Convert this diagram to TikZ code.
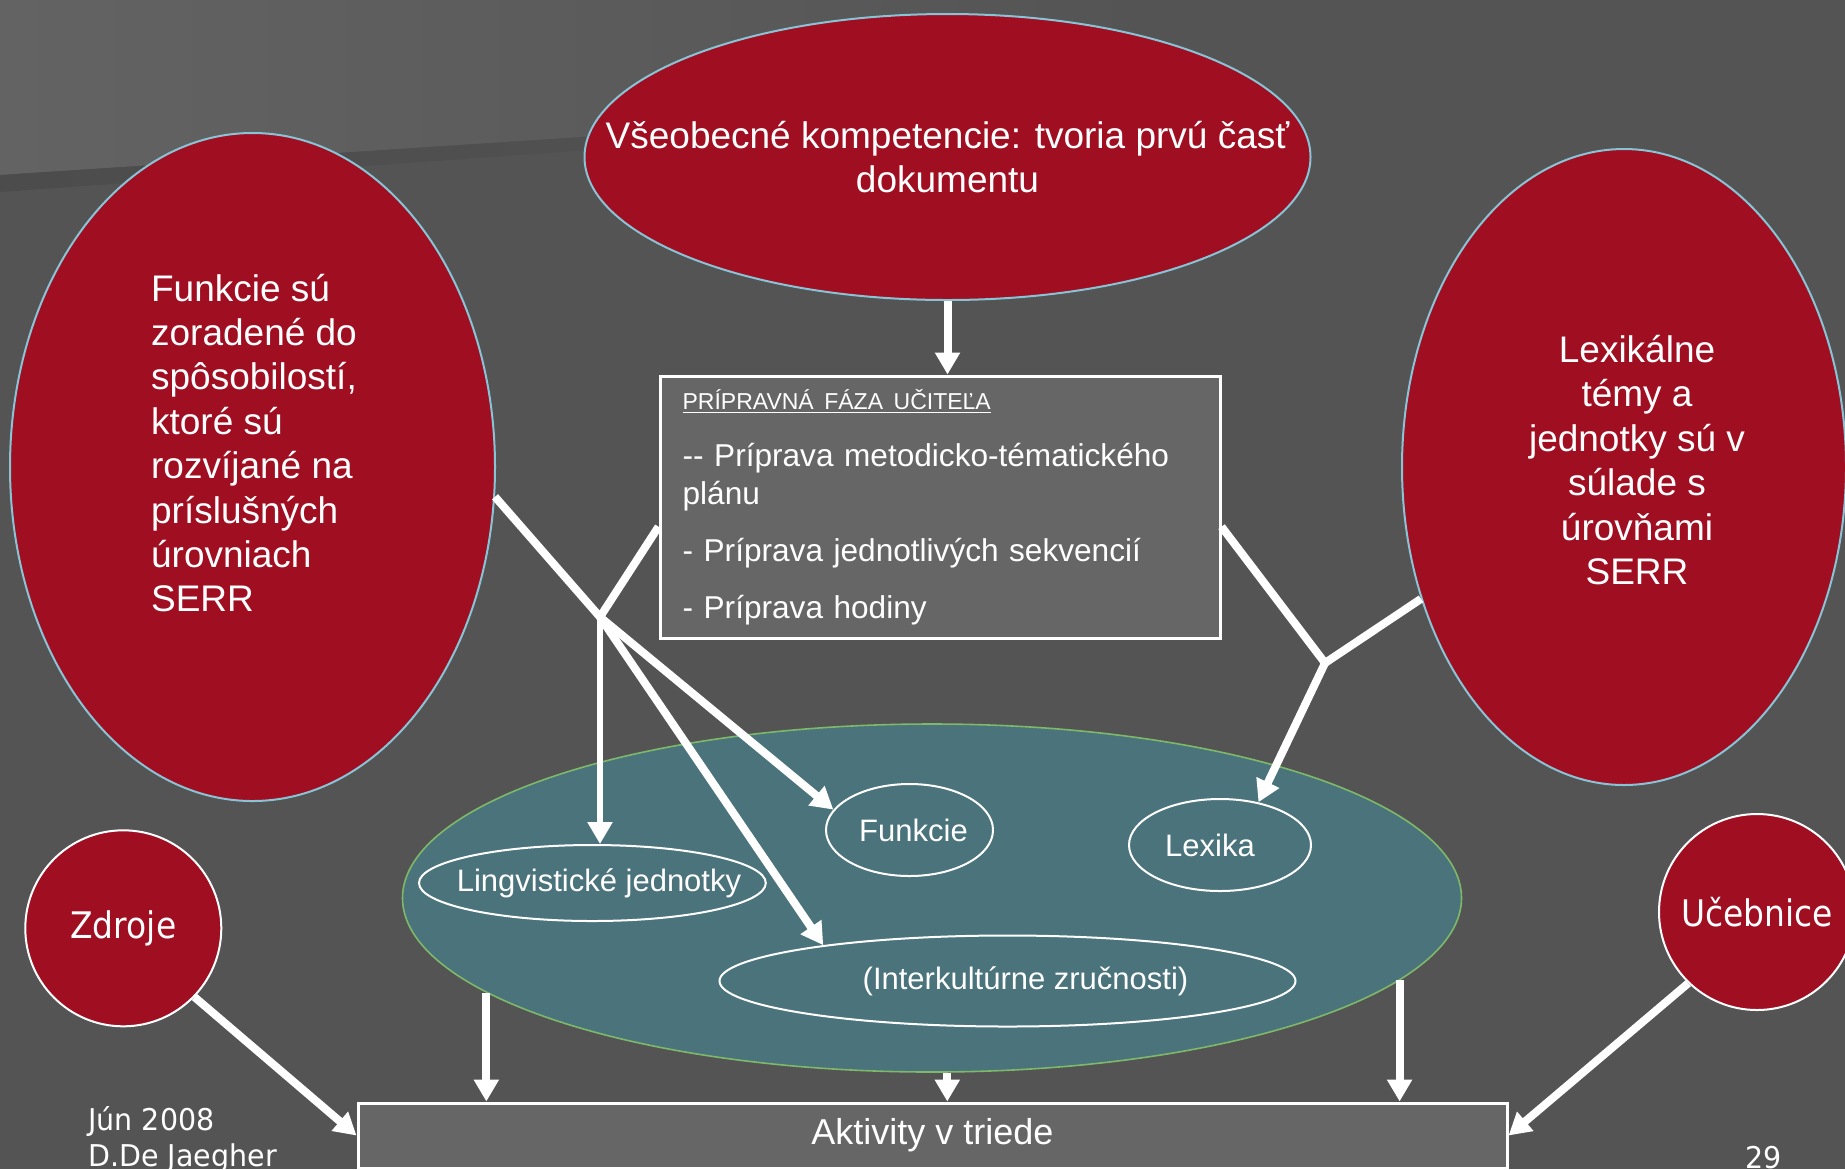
\documentclass[tikz,border=0pt]{standalone}
\usepackage{fontspec}
\setmainfont{Liberation Sans}
\newfontfamily\tahoma[FakeStretch=0.9]{DejaVu Sans}
\newfontfamily\tahomafoot[FakeStretch=0.95]{DejaVu Sans}
\usetikzlibrary{shapes.geometric,arrows.meta}
\definecolor{slate}{RGB}{84,84,84}
\definecolor{slatehi}{RGB}{99,99,99}
\definecolor{slatelo}{RGB}{76,76,76}
\definecolor{wine}{RGB}{160,14,33}
\definecolor{sky}{RGB}{136,196,214}
\definecolor{pond}{RGB}{74,115,124}
\definecolor{leaf}{RGB}{125,185,105}
\definecolor{boxgray}{RGB}{102,102,102}

\begin{document}
\begin{tikzpicture}[x=0.5pt,y=-0.5pt,
  redell/.style={ellipse,draw=sky,line width=1pt,fill=wine,inner sep=0pt},
  subell/.style={ellipse,draw=white,line width=1pt,inner sep=0pt},
  bigtxt/.style={text=white,inner sep=0pt,align=center,font=\fontsize{18.5}{22.2}\selectfont},
  subtxt/.style={text=white,inner sep=0pt,font=\fontsize{15.5}{18.6}\selectfont},
  disc/.style={circle,draw=white,line width=1pt,fill=wine,minimum size=98pt,inner sep=0pt,text=white,font=\tahoma\fontsize{18.3}{22}\selectfont},
  foot/.style={text=white,inner sep=0pt,anchor=base west,font=\tahomafoot\fontsize{15}{18}\selectfont},
  link/.style={draw=white,line width=4pt,line join=round},
  arr/.style={link,-{Triangle[width=12pt,length=11pt]}}
]
\useasboundingbox (0,0) rectangle (1845,1169);
\clip (0,0) rectangle (1845,1169);
% background
\fill[slate] (0,0) rectangle (1845,1169);
\shade[left color=slatehi,right color=slate] (0,0) -- (1150,0) -- (1150,100) -- (0,175) -- cycle;
\shade[left color=slatelo,right color=slate] (0,175) -- (1150,100) -- (1150,110) -- (0,192) -- cycle;

% red ellipses
\node[redell,minimum width=363pt,minimum height=143pt,
  label={[bigtxt]center:{Všeobecné kompetencie: tvoria prvú časť\\dokumentu}}] (top) at (947.5,157) {};
\node[redell,minimum width=242.5pt,minimum height=334pt,
  label={[bigtxt,align=left,xshift=0.75pt,yshift=12pt]center:{Funkcie sú\\zoradené do\\spôsobilostí,\\ktoré sú\\rozvíjané na\\príslušných\\úrovniach\\SERR}}] (lft) at (252.5,467) {};
\node[redell,minimum width=222pt,minimum height=318pt,
  label={[bigtxt,xshift=6.5pt,yshift=3.5pt]center:{Lexikálne\\témy a\\jednotky sú v\\súlade s\\úrovňami\\SERR}}] (rgt) at (1624,467) {};

% teacher box
\node[draw=white,line width=1.5pt,fill=boxgray,minimum width=280pt,minimum height=131pt,
  inner xsep=11.3pt,text width=257.4pt,align=left,text=white,
  font=\fontsize{15.8}{19}\selectfont] (prep) at (940,507)
  {{\fontsize{11.5}{19}\selectfont\underline{PRÍPRAVNÁ FÁZA UČITEĽA}}\\[9.35pt]
   \mbox{-}\mbox{-} Príprava metodicko-tématického\\plánu\\[9.8pt]
   - Príprava jednotlivých sekvencií\\[9.3pt]
   - Príprava hodiny};

% teal ellipse and its parts
\node[ellipse,draw=leaf,line width=0.8pt,fill=pond,minimum width=529.5pt,minimum height=174pt] (core) at (932,898) {};
\node[subell,minimum width=173.4pt,minimum height=38pt,
  label={[subtxt,xshift=3.3pt]center:Lingvistické jednotky}] (ling) at (592.4,883) {};
\node[subell,minimum width=83.5pt,minimum height=46pt,
  label={[subtxt,xshift=2pt]center:Funkcie}] (funk) at (909.5,830) {};
\node[subell,minimum width=91pt,minimum height=46pt,
  label={[subtxt,xshift=-5pt]center:Lexika}] (lex) at (1220,845) {};
\node[subell,minimum width=288pt,minimum height=45.5pt,
  label={[subtxt,xshift=9pt]center:(Interkultúrne zručnosti)}] (inter) at (1007.5,981) {};

\node[disc] (src) at (123.3,928.3) {Zdroje};
\node[disc] (book) at (1757,912) {Učebnice};

\node[draw=white,line width=1.5pt,fill=boxgray,minimum width=574.5pt,minimum height=32.5pt,
  text=white,font=\fontsize{18}{21}\selectfont] (act) at (932.5,1135.5) {Aktivity v triede};

% junctions
\coordinate (jl) at (600,617);
\coordinate (jr) at (1325,663);

% arrows
\draw[arr] (top.south) -- (top.south |- prep.north);
\draw[arr] (lft.-7) -- (jl) -- (funk.165);
\draw[arr] (prep.184) -- (jl) -- (inter.169);
\draw[arr,line width=3pt] (jl) -- (jl |- ling.north);
\draw[arr] (prep.-4) -- (jr) -- (lex.48);
\draw[link] (rgt.213) -- (jr);
\draw[arr] (core.192.5) -- (core.192.5 |- act.north);
\draw[arr] (core.-85) -- (core.-85 |- act.north);
\draw[arr] (core.350.3) -- (core.350.3 |- act.north);
\draw[arr] (src.-44) -- (act.west);
\draw[arr] (book.226) -- (act.east);

% footer
\node[foot] (date) at (88,1130) {Jún 2008};
\node[foot] (auth) at (88,1166) {D.De Jaegher};
\node[foot] (page) at (1745,1168) {29};
\end{tikzpicture}
\end{document}
